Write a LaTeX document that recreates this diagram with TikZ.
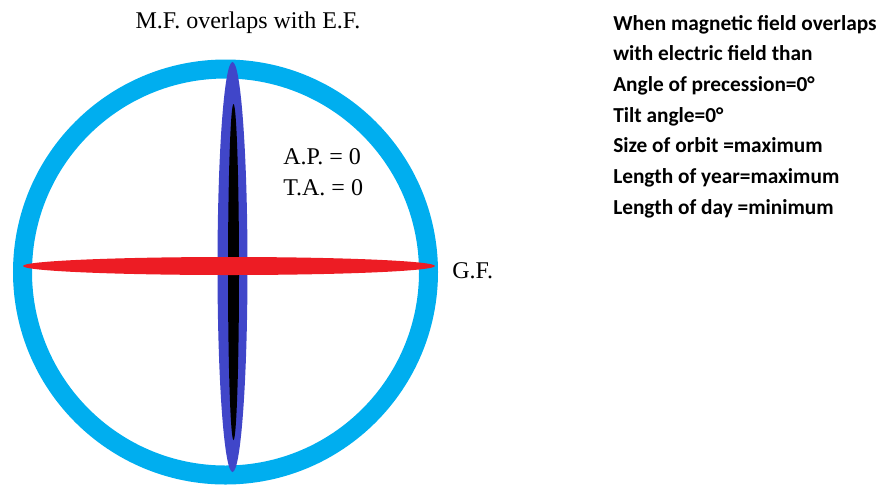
\documentclass[tikz,border=0pt]{standalone}
\usepackage{fontspec}
\setmainfont{Liberation Serif}
\newfontfamily\notefont{Carlito}
\usetikzlibrary{positioning}
\definecolor{ringB}{HTML}{00AEEF}
\definecolor{mfB}{HTML}{4046C9}
\definecolor{gfR}{HTML}{ED1C24}
\definecolor{ink}{HTML}{000000}
\tikzset{
  lbl/.style={font=\fontsize{18}{22}\selectfont, text=ink, inner sep=0pt},
  note/.style={font=\notefont\bfseries\fontsize{16}{23}\selectfont, text=ink,
               align=left, inner sep=0pt},
}

\begin{document}
\begin{tikzpicture}[x=0.75pt, y=-0.75pt]
  \useasboundingbox (0,0) rectangle (891,490);
  % ---------------------------------------------------------- the fields
  \coordinate (c) at (225.5,272);
  \draw[ringB, line width=14.25pt] (c) circle [radius=203];
  \fill[mfB] (232.5,267) ellipse [x radius=15, y radius=205];
  \fill[ink] (233.5,272) ellipse [x radius=5.5, y radius=168];
  \fill[gfR] (229,266) ellipse [x radius=206, y radius=9];

  % ---------------------------------------------------------- the labels
  \node[lbl, anchor=base] (mf) at (248,28) {M.F. overlaps with E.F.};
  \node[lbl, anchor=base west] (ap) at (283,164) {A.P. = 0};
  \node[lbl, anchor=base west] (ta) at (283,195) {T.A. = 0};
  \node[lbl, anchor=base west] (gf) at (452,278) {G.F.};

  % ---------------------------------------------------------- the note
  \node[note, anchor=north west] (cond) at (613,15)
    {When magnetic field overlaps\\
     with electric field than\\
     Angle of precession=0\textdegree\\
     Tilt angle=0\textdegree\\
     Size of orbit =maximum\\
     Length of year=maximum\\
     Length of day =minimum};
\end{tikzpicture}
\end{document}
